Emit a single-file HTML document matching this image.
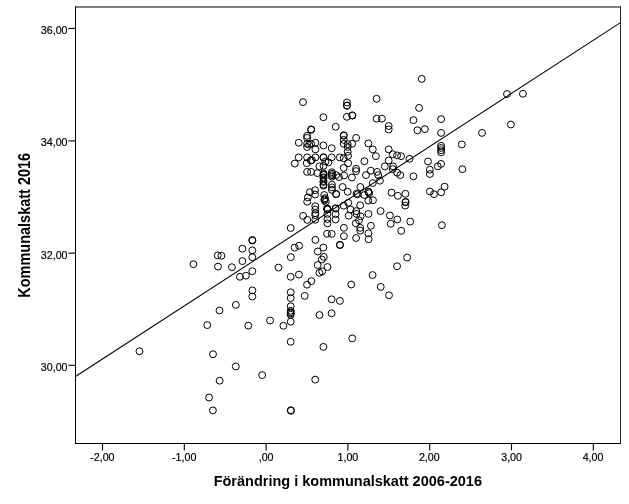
<!DOCTYPE html><html><head><meta charset="utf-8"><title>Scatter</title>
<style>html,body{margin:0;padding:0;background:#fff}svg{display:block}text{font-family:"Liberation Sans",sans-serif;fill:#000}</style></head><body>
<svg width="629" height="504" viewBox="0 0 629 504">
<rect width="629" height="504" fill="#fff"/>
<g stroke="#000" stroke-width="1" fill="none">
<line x1="75.5" y1="6.5" x2="75.5" y2="444"/>
<line x1="75" y1="443.5" x2="621" y2="443.5"/>
<line x1="75" y1="7" x2="621" y2="7" stroke-width="1.15"/>
<line x1="620.5" y1="6.5" x2="620.5" y2="444" stroke="#222"/>
<line x1="102.5" y1="443" x2="102.5" y2="450.5" stroke-width="1.1"/>
<line x1="184.3" y1="443" x2="184.3" y2="450.5" stroke-width="1.1"/>
<line x1="266.1" y1="443" x2="266.1" y2="450.5" stroke-width="1.1"/>
<line x1="347.9" y1="443" x2="347.9" y2="450.5" stroke-width="1.1"/>
<line x1="429.7" y1="443" x2="429.7" y2="450.5" stroke-width="1.1"/>
<line x1="511.5" y1="443" x2="511.5" y2="450.5" stroke-width="1.1"/>
<line x1="593.3" y1="443" x2="593.3" y2="450.5" stroke-width="1.1"/>
<line x1="68.4" y1="365.3" x2="75" y2="365.3" stroke-width="1.1"/>
<line x1="68.4" y1="253.15" x2="75" y2="253.15" stroke-width="1.1"/>
<line x1="68.4" y1="140.9" x2="75" y2="140.9" stroke-width="1.1"/>
<line x1="68.4" y1="28.45" x2="75" y2="28.45" stroke-width="1.1"/>
<line x1="75.5" y1="376.5" x2="620.5" y2="22.6" stroke-width="1.1"/>
</g>
<g font-size="10.67" text-anchor="middle" stroke="#000" stroke-width="0.2">
<text x="102.4" y="461">-2,00</text>
<text x="184.2" y="461">-1,00</text>
<text x="266.1" y="461">,00</text>
<text x="347.9" y="461">1,00</text>
<text x="429.3" y="461">2,00</text>
<text x="511.6" y="461">3,00</text>
<text x="593.0" y="461">4,00</text>
</g><g font-size="10.67" text-anchor="end" stroke="#000" stroke-width="0.2">
<text x="67.5" y="370.7">30,00</text>
<text x="67.5" y="258.7">32,00</text>
<text x="67.5" y="146.0">34,00</text>
<text x="67.5" y="34.0">36,00</text>
</g>
<text x="347.8" y="486.3" font-size="14.5" font-weight="bold" text-anchor="middle">Förändring i kommunalskatt 2006-2016</text>
<text transform="translate(29.6,225.3) rotate(-90) scale(1,1.09)" font-size="14.5" font-weight="bold" text-anchor="middle">Kommunalskatt 2016</text>
<g stroke="#000" stroke-width="1" fill="none">
<circle cx="139.5" cy="351.3" r="3.45"/>
<circle cx="207.3" cy="325.1" r="3.45"/>
<circle cx="213" cy="354.2" r="3.45"/>
<circle cx="219.5" cy="310.5" r="3.45"/>
<circle cx="235.8" cy="304.9" r="3.45"/>
<circle cx="252.3" cy="296.5" r="3.45"/>
<circle cx="252.4" cy="290.4" r="3.45"/>
<circle cx="248.3" cy="325.6" r="3.45"/>
<circle cx="270.1" cy="320.5" r="3.45"/>
<circle cx="283.4" cy="325.8" r="3.45"/>
<circle cx="235.8" cy="366.5" r="3.45"/>
<circle cx="290.7" cy="292.3" r="3.45"/>
<circle cx="290.7" cy="298.1" r="3.45"/>
<circle cx="290.7" cy="306.3" r="3.45"/>
<circle cx="290.7" cy="310.8" r="3.45"/>
<circle cx="290.7" cy="312.2" r="3.45"/>
<circle cx="290.7" cy="313.4" r="3.45"/>
<circle cx="290.7" cy="314.8" r="3.45"/>
<circle cx="290.7" cy="321.7" r="3.45"/>
<circle cx="290.7" cy="341.8" r="3.45"/>
<circle cx="304.7" cy="295.9" r="3.45"/>
<circle cx="319.5" cy="315" r="3.45"/>
<circle cx="219.6" cy="380.7" r="3.45"/>
<circle cx="209" cy="397.5" r="3.45"/>
<circle cx="212.9" cy="410.4" r="3.45"/>
<circle cx="262.2" cy="375.1" r="3.45"/>
<circle cx="323.4" cy="346.9" r="3.45"/>
<circle cx="352.2" cy="338.4" r="3.45"/>
<circle cx="315.2" cy="379.6" r="3.45"/>
<circle cx="290.8" cy="410.2" r="3.45"/>
<circle cx="290.9" cy="410.8" r="3.45"/>
<circle cx="407.1" cy="257.6" r="3.45"/>
<circle cx="397.1" cy="266.2" r="3.45"/>
<circle cx="372.6" cy="275.1" r="3.45"/>
<circle cx="380.7" cy="286.9" r="3.45"/>
<circle cx="389" cy="295.3" r="3.45"/>
<circle cx="351.3" cy="284.5" r="3.45"/>
<circle cx="331.6" cy="299.3" r="3.45"/>
<circle cx="339.9" cy="300.9" r="3.45"/>
<circle cx="331.6" cy="313.3" r="3.45"/>
<circle cx="294.6" cy="247.6" r="3.45"/>
<circle cx="299.1" cy="245.7" r="3.45"/>
<circle cx="290.8" cy="257.1" r="3.45"/>
<circle cx="323.4" cy="247.6" r="3.45"/>
<circle cx="317.8" cy="251.5" r="3.45"/>
<circle cx="323.8" cy="256.9" r="3.45"/>
<circle cx="321.8" cy="259.5" r="3.45"/>
<circle cx="317.7" cy="265" r="3.45"/>
<circle cx="327.5" cy="267" r="3.45"/>
<circle cx="322.2" cy="271.4" r="3.45"/>
<circle cx="319.4" cy="272.8" r="3.45"/>
<circle cx="298.9" cy="274.6" r="3.45"/>
<circle cx="290.7" cy="276.8" r="3.45"/>
<circle cx="311.4" cy="281.1" r="3.45"/>
<circle cx="307" cy="284.7" r="3.45"/>
<circle cx="252.3" cy="240.0" r="3.45"/>
<circle cx="252.4" cy="240.5" r="3.45"/>
<circle cx="242.4" cy="248.7" r="3.45"/>
<circle cx="252.3" cy="250.4" r="3.45"/>
<circle cx="252.3" cy="257.2" r="3.45"/>
<circle cx="242.4" cy="261.1" r="3.45"/>
<circle cx="231.9" cy="267.2" r="3.45"/>
<circle cx="252.3" cy="271.2" r="3.45"/>
<circle cx="239.9" cy="276.8" r="3.45"/>
<circle cx="245.9" cy="275.7" r="3.45"/>
<circle cx="290.7" cy="228" r="3.45"/>
<circle cx="303.1" cy="215.9" r="3.45"/>
<circle cx="307.3" cy="219.9" r="3.45"/>
<circle cx="315.4" cy="239.9" r="3.45"/>
<circle cx="278.5" cy="267.6" r="3.45"/>
<circle cx="193.4" cy="264.2" r="3.45"/>
<circle cx="217.7" cy="255.4" r="3.45"/>
<circle cx="221.4" cy="255.8" r="3.45"/>
<circle cx="218" cy="266.6" r="3.45"/>
<circle cx="315.3" cy="206.2" r="3.45"/>
<circle cx="315.3" cy="209.6" r="3.45"/>
<circle cx="315.3" cy="213.2" r="3.45"/>
<circle cx="315.3" cy="215.1" r="3.45"/>
<circle cx="315.3" cy="219.8" r="3.45"/>
<circle cx="327.4" cy="208.7" r="3.45"/>
<circle cx="327.5" cy="209.0" r="3.45"/>
<circle cx="327.3" cy="209.3" r="3.45"/>
<circle cx="327.4" cy="213.9" r="3.45"/>
<circle cx="327.4" cy="219.1" r="3.45"/>
<circle cx="327.4" cy="223.4" r="3.45"/>
<circle cx="327" cy="233.8" r="3.45"/>
<circle cx="331.7" cy="233.9" r="3.45"/>
<circle cx="335.6" cy="208.2" r="3.45"/>
<circle cx="335.7" cy="208.6" r="3.45"/>
<circle cx="335.6" cy="214.1" r="3.45"/>
<circle cx="335.6" cy="219.5" r="3.45"/>
<circle cx="343.7" cy="205.7" r="3.45"/>
<circle cx="348.3" cy="202.8" r="3.45"/>
<circle cx="350.5" cy="209.5" r="3.45"/>
<circle cx="348.7" cy="215.7" r="3.45"/>
<circle cx="360.2" cy="205.2" r="3.45"/>
<circle cx="356.2" cy="211.1" r="3.45"/>
<circle cx="356.6" cy="213.9" r="3.45"/>
<circle cx="360.6" cy="216.3" r="3.45"/>
<circle cx="359" cy="220.3" r="3.45"/>
<circle cx="355.8" cy="223.4" r="3.45"/>
<circle cx="360.2" cy="227.8" r="3.45"/>
<circle cx="360.2" cy="230.6" r="3.45"/>
<circle cx="343.9" cy="227.8" r="3.45"/>
<circle cx="343.9" cy="236.2" r="3.45"/>
<circle cx="368.4" cy="213.9" r="3.45"/>
<circle cx="370.9" cy="225.8" r="3.45"/>
<circle cx="368.4" cy="233.4" r="3.45"/>
<circle cx="380.6" cy="211.1" r="3.45"/>
<circle cx="389.9" cy="215.5" r="3.45"/>
<circle cx="397.3" cy="219.5" r="3.45"/>
<circle cx="390.7" cy="223.8" r="3.45"/>
<circle cx="410.2" cy="221.6" r="3.45"/>
<circle cx="401.2" cy="230.8" r="3.45"/>
<circle cx="405.2" cy="205.6" r="3.45"/>
<circle cx="405.6" cy="201.8" r="3.45"/>
<circle cx="405.5" cy="202.3" r="3.45"/>
<circle cx="429.9" cy="174" r="3.45"/>
<circle cx="444.6" cy="186.7" r="3.45"/>
<circle cx="441.1" cy="192.3" r="3.45"/>
<circle cx="429.9" cy="191.5" r="3.45"/>
<circle cx="434" cy="194.2" r="3.45"/>
<circle cx="441.9" cy="225.2" r="3.45"/>
<circle cx="294.8" cy="163.6" r="3.45"/>
<circle cx="306.7" cy="163.2" r="3.45"/>
<circle cx="310.8" cy="160.5" r="3.45"/>
<circle cx="311.9" cy="160.1" r="3.45"/>
<circle cx="307.1" cy="171.9" r="3.45"/>
<circle cx="311.1" cy="171.9" r="3.45"/>
<circle cx="317.4" cy="173.1" r="3.45"/>
<circle cx="319.4" cy="166.4" r="3.45"/>
<circle cx="323.5" cy="165.8" r="3.45"/>
<circle cx="323.5" cy="173.4" r="3.45"/>
<circle cx="323.5" cy="174.2" r="3.45"/>
<circle cx="323.6" cy="175.0" r="3.45"/>
<circle cx="323.5" cy="177.2" r="3.45"/>
<circle cx="323.5" cy="178.2" r="3.45"/>
<circle cx="323.5" cy="181.0" r="3.45"/>
<circle cx="323.4" cy="182.0" r="3.45"/>
<circle cx="323.5" cy="184.6" r="3.45"/>
<circle cx="323.5" cy="185.6" r="3.45"/>
<circle cx="331.9" cy="172.2" r="3.45"/>
<circle cx="331.9" cy="173.8" r="3.45"/>
<circle cx="331.9" cy="175.2" r="3.45"/>
<circle cx="331.9" cy="176.6" r="3.45"/>
<circle cx="331.9" cy="184.6" r="3.45"/>
<circle cx="331.9" cy="187.4" r="3.45"/>
<circle cx="331.9" cy="189.8" r="3.45"/>
<circle cx="336.1" cy="175.1" r="3.45"/>
<circle cx="336.1" cy="194.2" r="3.45"/>
<circle cx="309.9" cy="192.2" r="3.45"/>
<circle cx="315.1" cy="190.2" r="3.45"/>
<circle cx="315.1" cy="194.5" r="3.45"/>
<circle cx="307.9" cy="197.4" r="3.45"/>
<circle cx="324.2" cy="195" r="3.45"/>
<circle cx="325" cy="198.2" r="3.45"/>
<circle cx="348.1" cy="163.2" r="3.45"/>
<circle cx="343.7" cy="167.9" r="3.45"/>
<circle cx="364.4" cy="161.2" r="3.45"/>
<circle cx="356.1" cy="168.7" r="3.45"/>
<circle cx="356.1" cy="171.1" r="3.45"/>
<circle cx="344.1" cy="175.5" r="3.45"/>
<circle cx="351.9" cy="177.5" r="3.45"/>
<circle cx="339" cy="177.1" r="3.45"/>
<circle cx="366" cy="175.1" r="3.45"/>
<circle cx="370.8" cy="170.7" r="3.45"/>
<circle cx="377.1" cy="171.9" r="3.45"/>
<circle cx="378.3" cy="175.1" r="3.45"/>
<circle cx="379.9" cy="180.7" r="3.45"/>
<circle cx="372.8" cy="183.1" r="3.45"/>
<circle cx="342.6" cy="187" r="3.45"/>
<circle cx="347.7" cy="191.8" r="3.45"/>
<circle cx="360.4" cy="187" r="3.45"/>
<circle cx="356.5" cy="193.8" r="3.45"/>
<circle cx="357.7" cy="194.2" r="3.45"/>
<circle cx="368.4" cy="191.6" r="3.45"/>
<circle cx="368.5" cy="192.0" r="3.45"/>
<circle cx="364.4" cy="195" r="3.45"/>
<circle cx="369.2" cy="193.2" r="3.45"/>
<circle cx="384.8" cy="166.4" r="3.45"/>
<circle cx="393.1" cy="166.4" r="3.45"/>
<circle cx="392.7" cy="169.1" r="3.45"/>
<circle cx="397.1" cy="172.7" r="3.45"/>
<circle cx="400.3" cy="175.1" r="3.45"/>
<circle cx="413.4" cy="176.3" r="3.45"/>
<circle cx="391.5" cy="192.6" r="3.45"/>
<circle cx="397.9" cy="195.8" r="3.45"/>
<circle cx="405.4" cy="193.8" r="3.45"/>
<circle cx="429.8" cy="169.7" r="3.45"/>
<circle cx="311.1" cy="129.4" r="3.45"/>
<circle cx="311.2" cy="129.8" r="3.45"/>
<circle cx="307.1" cy="135.9" r="3.45"/>
<circle cx="307.1" cy="137.9" r="3.45"/>
<circle cx="298.7" cy="142.7" r="3.45"/>
<circle cx="335.7" cy="126.8" r="3.45"/>
<circle cx="307.1" cy="143.8" r="3.45"/>
<circle cx="311.1" cy="143.8" r="3.45"/>
<circle cx="309.1" cy="144.6" r="3.45"/>
<circle cx="307.1" cy="147" r="3.45"/>
<circle cx="315.4" cy="142.7" r="3.45"/>
<circle cx="315.4" cy="149.4" r="3.45"/>
<circle cx="323.4" cy="145.4" r="3.45"/>
<circle cx="331.7" cy="148.2" r="3.45"/>
<circle cx="298.7" cy="157.4" r="3.45"/>
<circle cx="307.1" cy="157.4" r="3.45"/>
<circle cx="315.4" cy="157.4" r="3.45"/>
<circle cx="323.4" cy="157.2" r="3.45"/>
<circle cx="323.5" cy="157.6" r="3.45"/>
<circle cx="331.7" cy="157.4" r="3.45"/>
<circle cx="343.7" cy="135.2" r="3.45"/>
<circle cx="343.8" cy="135.7" r="3.45"/>
<circle cx="343.7" cy="139.9" r="3.45"/>
<circle cx="356.1" cy="137.9" r="3.45"/>
<circle cx="343.7" cy="143.8" r="3.45"/>
<circle cx="347.7" cy="144.2" r="3.45"/>
<circle cx="352.1" cy="143.8" r="3.45"/>
<circle cx="347.7" cy="147" r="3.45"/>
<circle cx="347.7" cy="151.8" r="3.45"/>
<circle cx="348.1" cy="155.8" r="3.45"/>
<circle cx="339.8" cy="157.4" r="3.45"/>
<circle cx="343.7" cy="158.2" r="3.45"/>
<circle cx="368.4" cy="143.4" r="3.45"/>
<circle cx="372.8" cy="149.4" r="3.45"/>
<circle cx="375.9" cy="156.2" r="3.45"/>
<circle cx="388.7" cy="126" r="3.45"/>
<circle cx="388.7" cy="129.5" r="3.45"/>
<circle cx="417.4" cy="130.3" r="3.45"/>
<circle cx="424.9" cy="129.1" r="3.45"/>
<circle cx="388.7" cy="149.4" r="3.45"/>
<circle cx="392.7" cy="154.2" r="3.45"/>
<circle cx="397.1" cy="155.4" r="3.45"/>
<circle cx="401.1" cy="156.2" r="3.45"/>
<circle cx="409.5" cy="158.8" r="3.45"/>
<circle cx="388.7" cy="160.5" r="3.45"/>
<circle cx="428" cy="161.5" r="3.45"/>
<circle cx="441.1" cy="119.1" r="3.45"/>
<circle cx="441.1" cy="132.9" r="3.45"/>
<circle cx="441.1" cy="145.8" r="3.45"/>
<circle cx="441.1" cy="148" r="3.45"/>
<circle cx="441.1" cy="150.2" r="3.45"/>
<circle cx="441.1" cy="152.4" r="3.45"/>
<circle cx="461.8" cy="144.4" r="3.45"/>
<circle cx="482" cy="132.9" r="3.45"/>
<circle cx="510.9" cy="124.5" r="3.45"/>
<circle cx="507" cy="94" r="3.45"/>
<circle cx="441.1" cy="163.9" r="3.45"/>
<circle cx="437.8" cy="166.3" r="3.45"/>
<circle cx="462.4" cy="169.2" r="3.45"/>
<circle cx="303" cy="102.1" r="3.45"/>
<circle cx="346.9" cy="102.5" r="3.45"/>
<circle cx="346.9" cy="105.4" r="3.45"/>
<circle cx="347" cy="105.8" r="3.45"/>
<circle cx="376.6" cy="98.8" r="3.45"/>
<circle cx="323.4" cy="117.2" r="3.45"/>
<circle cx="346.9" cy="116.8" r="3.45"/>
<circle cx="352.3" cy="115.3" r="3.45"/>
<circle cx="352.4" cy="115.7" r="3.45"/>
<circle cx="376.6" cy="118.7" r="3.45"/>
<circle cx="381.9" cy="118.7" r="3.45"/>
<circle cx="421.7" cy="78.9" r="3.45"/>
<circle cx="419.1" cy="107.9" r="3.45"/>
<circle cx="413.4" cy="120.1" r="3.45"/>
<circle cx="522.9" cy="93.8" r="3.45"/>
<circle cx="324.6" cy="200.3" r="3.45"/>
<circle cx="325.8" cy="201.8" r="3.45"/>
<circle cx="307.2" cy="201.7" r="3.45"/>
<circle cx="325.5" cy="161.5" r="3.45"/>
<circle cx="328.4" cy="162.4" r="3.45"/>
<circle cx="368.3" cy="200.6" r="3.45"/>
<circle cx="373" cy="200.2" r="3.45"/>
<circle cx="339.9" cy="244.7" r="3.45"/>
<circle cx="340" cy="245.1" r="3.45"/>
<circle cx="356.1" cy="238" r="3.45"/>
<circle cx="368.6" cy="239.2" r="3.45"/>
<circle cx="327.0" cy="208.6" r="3.45"/>
<circle cx="327.8" cy="209.2" r="3.45"/>
<circle cx="336.2" cy="193.9" r="3.45"/>
<circle cx="324.4" cy="199.4" r="3.45"/>
</g></svg></body></html>
